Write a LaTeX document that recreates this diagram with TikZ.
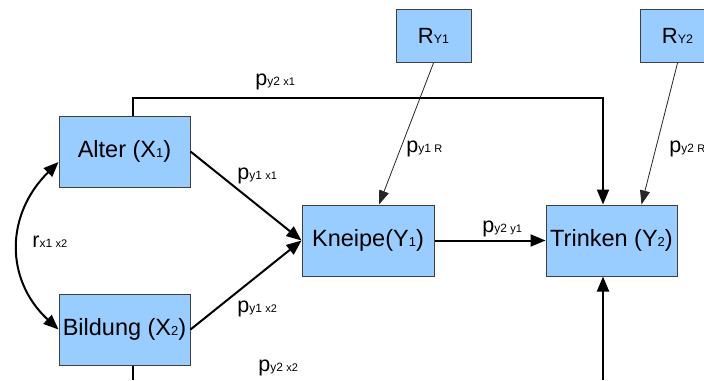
\documentclass[tikz,border=0pt]{standalone}
\usepackage{fontspec}
\setmainfont{Liberation Sans}
\usetikzlibrary{arrows.meta}
\definecolor{boxfill}{HTML}{99CCFF}
\definecolor{boxline}{HTML}{3F3F3F}
\newcommand\bigtxt{\fontsize{11.75}{14}\selectfont}
\newcommand\subtxt{\fontsize{6.5}{8}\selectfont}
\newcommand\plabel[3]{{\fontsize{10.75}{13}\selectfont #1}{\fontsize{6}{7}\selectfont #2 }{\fontsize{5.5}{6}\selectfont #3}}
\begin{document}
\begin{tikzpicture}[x=0.5pt,y=-0.5pt,
  var/.style={draw=boxline, fill=boxfill, line width=0.5pt, minimum width=65.5pt, minimum height=35.5pt, inner sep=0pt, font=\bigtxt},
  res/.style={var, minimum width=37.5pt, minimum height=26.5pt, font=\fontsize{11}{12}\selectfont},
  pth/.style={line width=1pt, -{Triangle[length=7.5pt,width=6pt]}},
  thinarr/.style={line width=0.4pt, draw=black!85, -{Triangle[length=7pt,width=5pt]}},
  lab/.style={anchor=base west, inner sep=0pt}]
\clip (0,0) rectangle (704,380);
\fill[white] (0,0) rectangle (704,380);

\node[var] (alter) at (124.5,151.5) {Alter (X{\subtxt 1})};
\node[var] (bildung) at (124.5,329.5) {Bildung (X{\subtxt 2})};
\node[var, minimum width=66pt] (kneipe) at (368,240.5) {Kneipe(Y{\subtxt 1})};
\node[var] (trinken) at (611.5,240.5) {Trinken (Y{\subtxt 2})};
\node[res] (ry1) at (433.5,36) {R{\fontsize{6.2}{7}\selectfont Y1}};
\node[res] (ry2) at (677.5,36) {R{\fontsize{6.2}{7}\selectfont Y2}};

\coordinate (topL) at (133,98);
\coordinate (topR) at (603,98);
\coordinate (botL) at (133,380);
\coordinate (botR) at (603,380);

\draw[pth] (alter.east) -- (kneipe.west);
\draw[pth] (bildung.east) -- (kneipe.west);
\draw[pth] (kneipe.east) -- (trinken.west);
\draw[pth] (alter.north -| topL) -- (topL) -- (topR) -- (trinken.north -| topR);
\draw[line width=1pt] (bildung.south -| botL) -- (botL);
\draw[pth] (botR) -- (trinken.south -| botR);
\draw[thinarr] (ry1.south) -- ([xshift=5.5pt]kneipe.north);
\draw[thinarr] (ry2.south) -- ([xshift=15pt]trinken.north);
\draw[line width=1pt, {Triangle[length=7.5pt,width=6pt]}-{Triangle[length=7.5pt,width=6pt]}]
  ([yshift=-5.25pt]alter.west) .. controls (5,215) and (5,280) .. (bildung.west);

\node[lab] (l1) at (255,85) {\plabel{p}{y2}{x1}};
\node[lab] (l2) at (237,179) {\plabel{p}{y1}{x1}};
\node[lab] (l3) at (237,312) {\plabel{p}{y1}{x2}};
\node[lab] (l4) at (258,371) {\plabel{p}{y2}{x2}};
\node[lab] (l5) at (32,247) {\plabel{r}{x1}{x2}};
\node[lab] (l6) at (406,152) {\plabel{p}{y1}{R}};
\node[lab] (l7) at (669,152) {\plabel{p}{y2}{R}};
\node[lab] (l8) at (482,232) {\plabel{p}{y2}{y1}};
\end{tikzpicture}
\end{document}
